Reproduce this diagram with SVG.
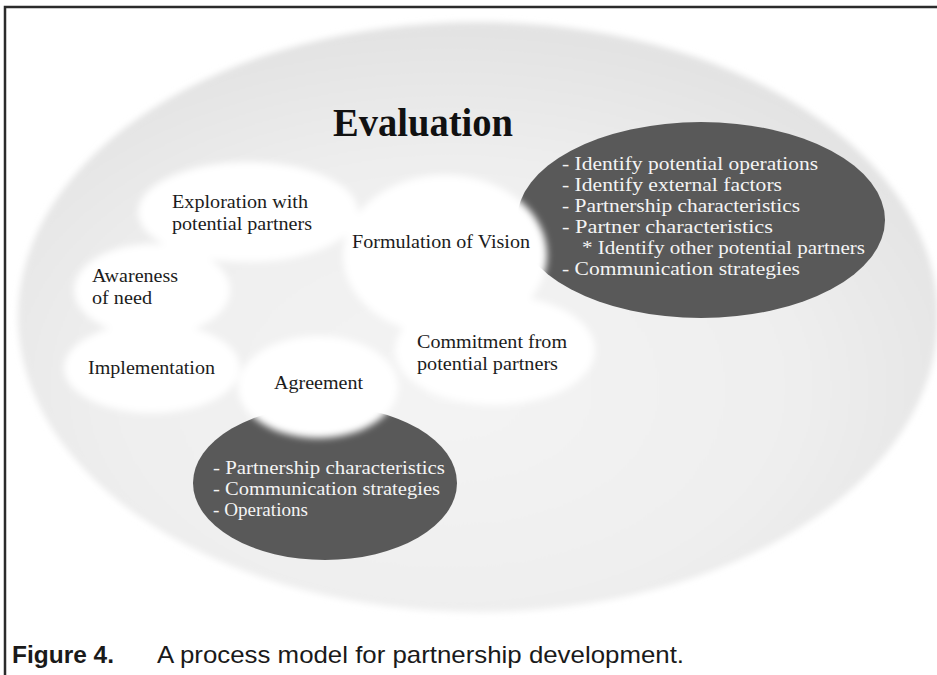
<svg xmlns="http://www.w3.org/2000/svg" width="937" height="675" viewBox="0 0 937 675">
  <defs>
    <radialGradient id="fieldFill" cx="0.47" cy="0.62" r="0.6">
      <stop offset="0" stop-color="#f4f4f4"/>
      <stop offset="0.6" stop-color="#efefef"/>
      <stop offset="1" stop-color="#e3e3e3"/>
    </radialGradient>
    <filter id="softEdge" x="-10%" y="-10%" width="120%" height="120%">
      <feGaussianBlur stdDeviation="3"/>
    </filter>
    <filter id="cloudEdge" x="-10%" y="-10%" width="120%" height="120%">
      <feGaussianBlur stdDeviation="3.5"/>
    </filter>
    <style>
      .frame { fill: none; stroke: #2b2b2b; stroke-width: 2.5; }
      .dark { fill: #595959; }
      .cloud { fill: #ffffff; }
      .lbl { font-family: "Liberation Serif", "Times New Roman", serif; font-size: 19.5px; fill: #1c1c1c; }
      .wt { font-family: "Liberation Serif", "Times New Roman", serif; font-size: 18px; fill: #f4f4f4; }
      .title { font-family: "Liberation Serif", "Times New Roman", serif; font-size: 40px; font-weight: bold; fill: #111111; }
      .cap { font-family: "Liberation Sans Narrow", "Liberation Sans", Arial, sans-serif; font-size: 24px; fill: #1a1a1a; }
      .capb { font-weight: bold; }
    </style>
  </defs>

  <rect width="937" height="675" fill="#ffffff"/>

  <!-- frame: top rule and left rule -->
  <path class="frame" d="M5,675 V7 H937"/>

  <!-- outer evaluation field -->
  <g id="evaluation-field">
    <ellipse cx="478" cy="317" rx="460" ry="295" fill="url(#fieldFill)" filter="url(#softEdge)"/>
    <text class="title" x="333" y="136" textLength="180" lengthAdjust="spacingAndGlyphs">Evaluation</text>
  </g>

  <!-- dark detail ovals (drawn under the white stage clouds) -->
  <g id="vision-details">
    <ellipse class="dark" cx="701" cy="220" rx="184" ry="98"/>
  </g>
  <g id="agreement-details">
    <ellipse class="dark" cx="325" cy="483" rx="132" ry="77"/>
  </g>

  <!-- white stage clouds -->
  <g id="stage-clouds" filter="url(#cloudEdge)">
    <ellipse class="cloud" cx="248" cy="212" rx="110" ry="50"/>
    <ellipse class="cloud" cx="445" cy="255" rx="102" ry="80"/>
    <ellipse class="cloud" cx="152" cy="290" rx="78" ry="46"/>
    <ellipse class="cloud" cx="152" cy="368" rx="88" ry="45"/>
    <ellipse class="cloud" cx="318" cy="387" rx="80" ry="51"/>
    <ellipse class="cloud" cx="495" cy="350" rx="100" ry="55"/>
  </g>

  <g id="connectors"/>

  <!-- stage labels -->
  <g id="exploration">
    <text class="lbl" x="172" y="208" textLength="136" lengthAdjust="spacingAndGlyphs">Exploration with</text>
    <text class="lbl" x="172" y="230" textLength="140" lengthAdjust="spacingAndGlyphs">potential partners</text>
  </g>
  <g id="formulation">
    <text class="lbl" x="352" y="248" textLength="178" lengthAdjust="spacingAndGlyphs">Formulation of Vision</text>
  </g>
  <g id="awareness">
    <text class="lbl" x="92" y="282" textLength="86" lengthAdjust="spacingAndGlyphs">Awareness</text>
    <text class="lbl" x="92" y="304" textLength="60" lengthAdjust="spacingAndGlyphs">of need</text>
  </g>
  <g id="implementation">
    <text class="lbl" x="88" y="374" textLength="127" lengthAdjust="spacingAndGlyphs">Implementation</text>
  </g>
  <g id="agreement">
    <text class="lbl" x="274" y="389" textLength="89" lengthAdjust="spacingAndGlyphs">Agreement</text>
  </g>
  <g id="commitment">
    <text class="lbl" x="417" y="348" textLength="150" lengthAdjust="spacingAndGlyphs">Commitment from</text>
    <text class="lbl" x="417" y="370" textLength="141" lengthAdjust="spacingAndGlyphs">potential partners</text>
  </g>

  <!-- detail lists -->
  <g id="vision-details-text">
    <text class="wt" x="562" y="170" textLength="256" lengthAdjust="spacingAndGlyphs">- Identify potential operations</text>
    <text class="wt" x="562" y="191" textLength="220" lengthAdjust="spacingAndGlyphs">- Identify external factors</text>
    <text class="wt" x="562" y="212" textLength="238" lengthAdjust="spacingAndGlyphs">- Partnership characteristics</text>
    <text class="wt" x="562" y="233" textLength="211" lengthAdjust="spacingAndGlyphs">- Partner characteristics</text>
    <text class="wt" x="582" y="254" textLength="283" lengthAdjust="spacingAndGlyphs">* Identify other potential partners</text>
    <text class="wt" x="562" y="275" textLength="238" lengthAdjust="spacingAndGlyphs">- Communication strategies</text>
  </g>
  <g id="agreement-details-text">
    <text class="wt" x="213" y="474" textLength="232" lengthAdjust="spacingAndGlyphs">- Partnership characteristics</text>
    <text class="wt" x="213" y="495" textLength="227" lengthAdjust="spacingAndGlyphs">- Communication strategies</text>
    <text class="wt" x="213" y="516" textLength="95" lengthAdjust="spacingAndGlyphs">- Operations</text>
  </g>

  <!-- caption -->
  <g id="caption">
    <text class="cap capb" x="12" y="663" textLength="102" lengthAdjust="spacingAndGlyphs">Figure 4.</text>
    <text class="cap" x="157" y="663" textLength="527" lengthAdjust="spacingAndGlyphs">A process model for partnership development.</text>
  </g>
</svg>
